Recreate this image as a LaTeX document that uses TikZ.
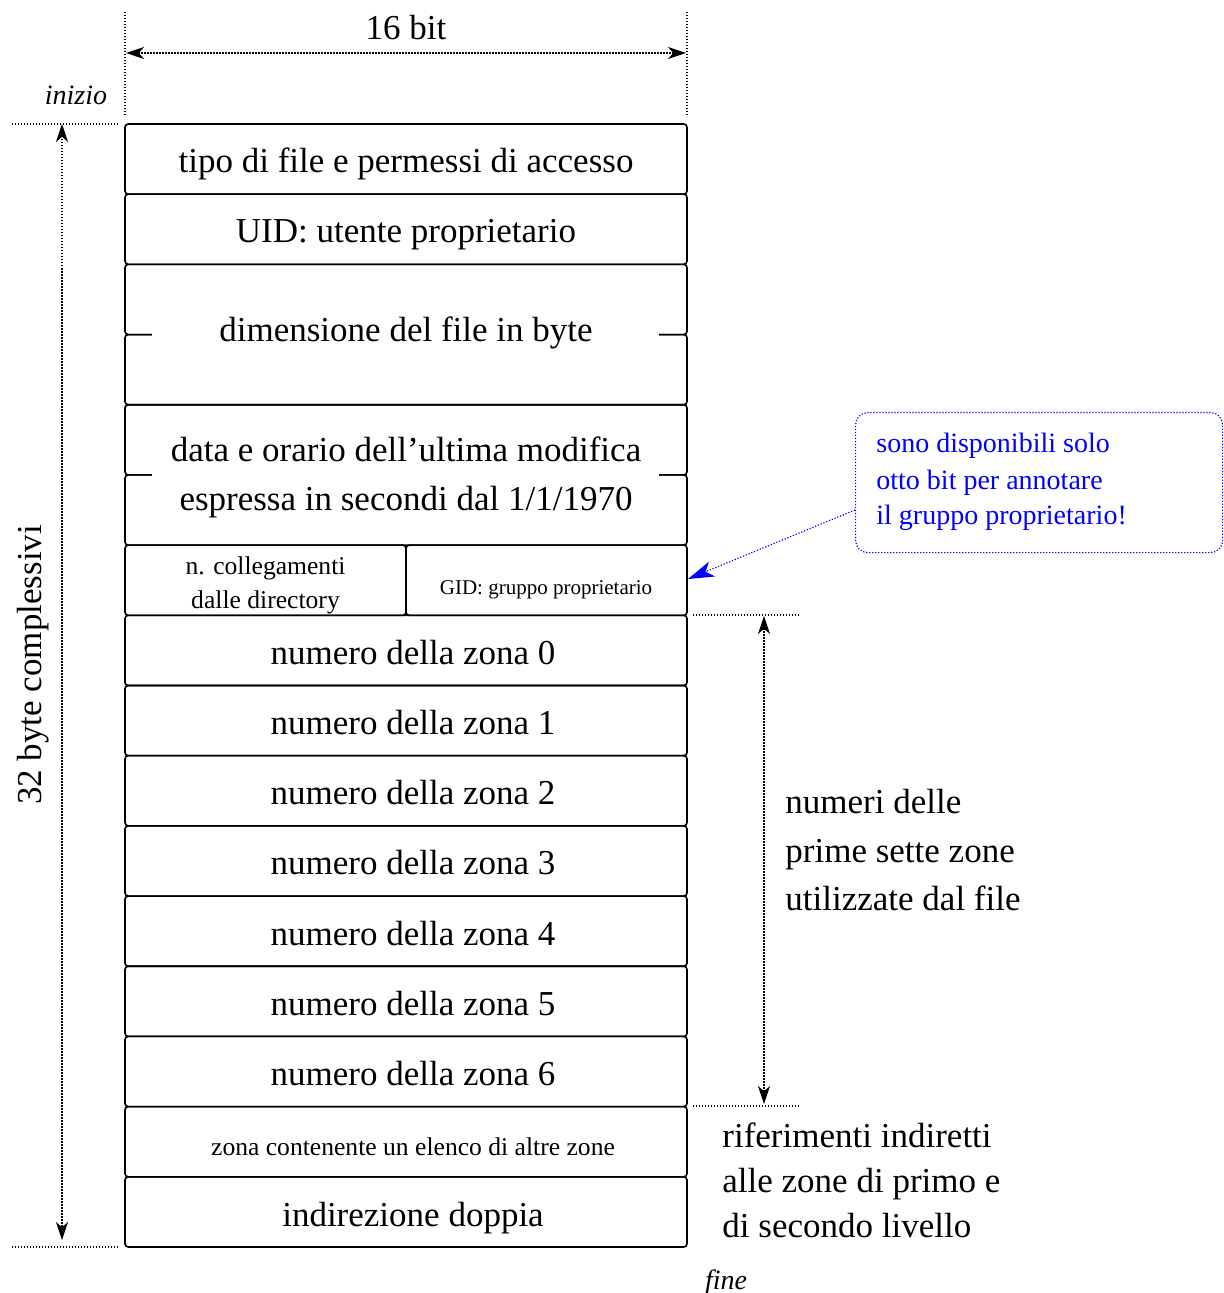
\documentclass[tikz,border=0pt]{standalone}
\usepackage{fontspec}
\setmainfont{Liberation Serif}
\usetikzlibrary{arrows.meta}
\begin{document}
\begin{tikzpicture}[x=0.5pt,y=-0.5pt,
  cell/.style={draw, line width=0.8pt, rounded corners=1.6pt, minimum height=35.09pt,
    inner sep=0pt, outer sep=0pt, anchor=north west},
  wide/.style={cell, minimum width=281pt},
  half/.style={cell, minimum width=140.5pt},
  lbl/.style={inner sep=0pt, anchor=base},
  lblw/.style={inner sep=0pt, anchor=base west},
  big/.style={font=\fontsize{17.5pt}{21pt}\selectfont},
  mid/.style={font=\fontsize{12.8pt}{15pt}\selectfont},
  sml/.style={font=\fontsize{10.5pt}{12pt}\selectfont},
  ital/.style={font=\fontsize{14pt}{17pt}\selectfont\itshape},
  note/.style={font=\fontsize{14pt}{17pt}\selectfont, text=blue},
  guide/.style={line width=0.6pt, dash pattern=on 0.6pt off 0.9pt},
  dim/.style={guide, {Stealth[length=9pt,width=6pt,inset=2.6pt]}-{Stealth[length=9pt,width=6pt,inset=2.6pt]}},
]
\useasboundingbox (0,0) rectangle (1223,1293);

% inode rows, 16 cells of 2 bytes each
\foreach \i in {0,1,2,3,4,5,7,8,9,10,11,12,13,14,15}
  \node[wide] (r\i) at (125,{124+70.1875*\i}) {};
\node[half] (r6a) at (125,{124+70.1875*6}) {};
\node[half] (r6b) at (406,{124+70.1875*6}) {};

% double-width fields: hide the inner separators
\fill[white] (152,{334.5625-2.5}) rectangle (659,{334.5625+2.5});
\fill[white] (152,{474.9375-2.5}) rectangle (659,{474.9375+2.5});

% field labels
\node[lbl,big] (t0) at (406,173) {tipo di file e permessi di accesso};
\node[lbl,big] (t1) at (406,243) {UID: utente proprietario};
\node[lbl,big] (t2) at (406,342) {dimensione del file in byte};
\node[lbl,big] (t4) at (406,462) {data e orario dell’ultima modifica};
\node[lbl,big] (t5) at (406,510) {espressa in secondi dal 1/1/1970};
\node[lbl,mid] (t6a) at (265.5,574) {n. collegamenti};
\node[lbl,mid] (t6b) at (265.5,608) {dalle directory};
\node[lbl,sml] (t6c) at (546,594) {GID: gruppo proprietario};
\foreach \k in {0,...,6}
  \node[lbl,big] (z\k) at (413,{124+70.1875*(7+\k)+49}) {numero della zona \k};
\node[lbl,mid] (t14) at (413,1155) {zona contenente un elenco di altre zone};
\node[lbl,big] (t15) at (413,1226) {indirezione doppia};

% width dimension
\coordinate (wl0) at (125,12);  \coordinate (wl1) at (125,117);
\coordinate (wr0) at (687,12);  \coordinate (wr1) at (687,117);
\coordinate (wa) at (126,53);   \coordinate (wb) at (686,53);
\draw[guide] (wl0) -- (wl1);
\draw[guide] (wr0) -- (wr1);
\draw[dim] (wa) -- (wb);
\node[lbl,big] (w) at (406,40) {16 bit};

% total size dimension
\coordinate (ht0) at (12,124);  \coordinate (ht1) at (118,124);
\coordinate (hb0) at (12,1247); \coordinate (hb1) at (118,1247);
\coordinate (ha) at (62,124);   \coordinate (hb) at (62,1240);
\draw[guide] (ht0) -- (ht1);
\draw[guide] (hb0) -- (hb1);
\draw[dim] (ha) -- (hb);
\node[big, inner sep=0pt, rotate=90] (h) at (33,665) {32 byte complessivi};
\node[lbl,ital] (start) at (76,105) {inizio};
\node[lbl,ital] (end) at (726,1289) {fine};

% direct zones
\coordinate (dt0) at (693,615);  \coordinate (dt1) at (799,615);
\coordinate (db0) at (693,1106); \coordinate (db1) at (799,1106);
\coordinate (da) at (764,616);   \coordinate (db) at (764,1104);
\draw[guide] (dt0) -- (dt1);
\draw[guide] (db0) -- (db1);
\draw[dim] (da) -- (db);
\node[lblw,big] (d1) at (785,813) {numeri delle};
\node[lblw,big] (d2) at (785,862) {prime sette zone};
\node[lblw,big] (d3) at (785,910) {utilizzate dal file};

% indirect zones
\node[lblw,big] (i1) at (722,1147) {riferimenti indiretti};
\node[lblw,big] (i2) at (722,1192) {alle zone di primo e};
\node[lblw,big] (i3) at (722,1237) {di secondo livello};

% remark on the group id
\node[draw=blue, guide, rounded corners=6pt, minimum width=183.5pt, minimum height=70pt,
  inner sep=0pt, anchor=north west] (remark) at (855,412) {};
\node[lblw,note] (n1) at (876,453) {sono disponibili solo};
\node[lblw,note] (n2) at (876,489) {otto bit per annotare};
\node[lblw,note] (n3) at (876,524) {il gruppo proprietario!};
\coordinate (rfrom) at (855,510);
\coordinate (rto) at (688,579);
\draw[guide, blue, -{Stealth[length=13pt,width=8pt,inset=3.5pt]}] (rfrom) -- (rto);
\end{tikzpicture}
\end{document}
